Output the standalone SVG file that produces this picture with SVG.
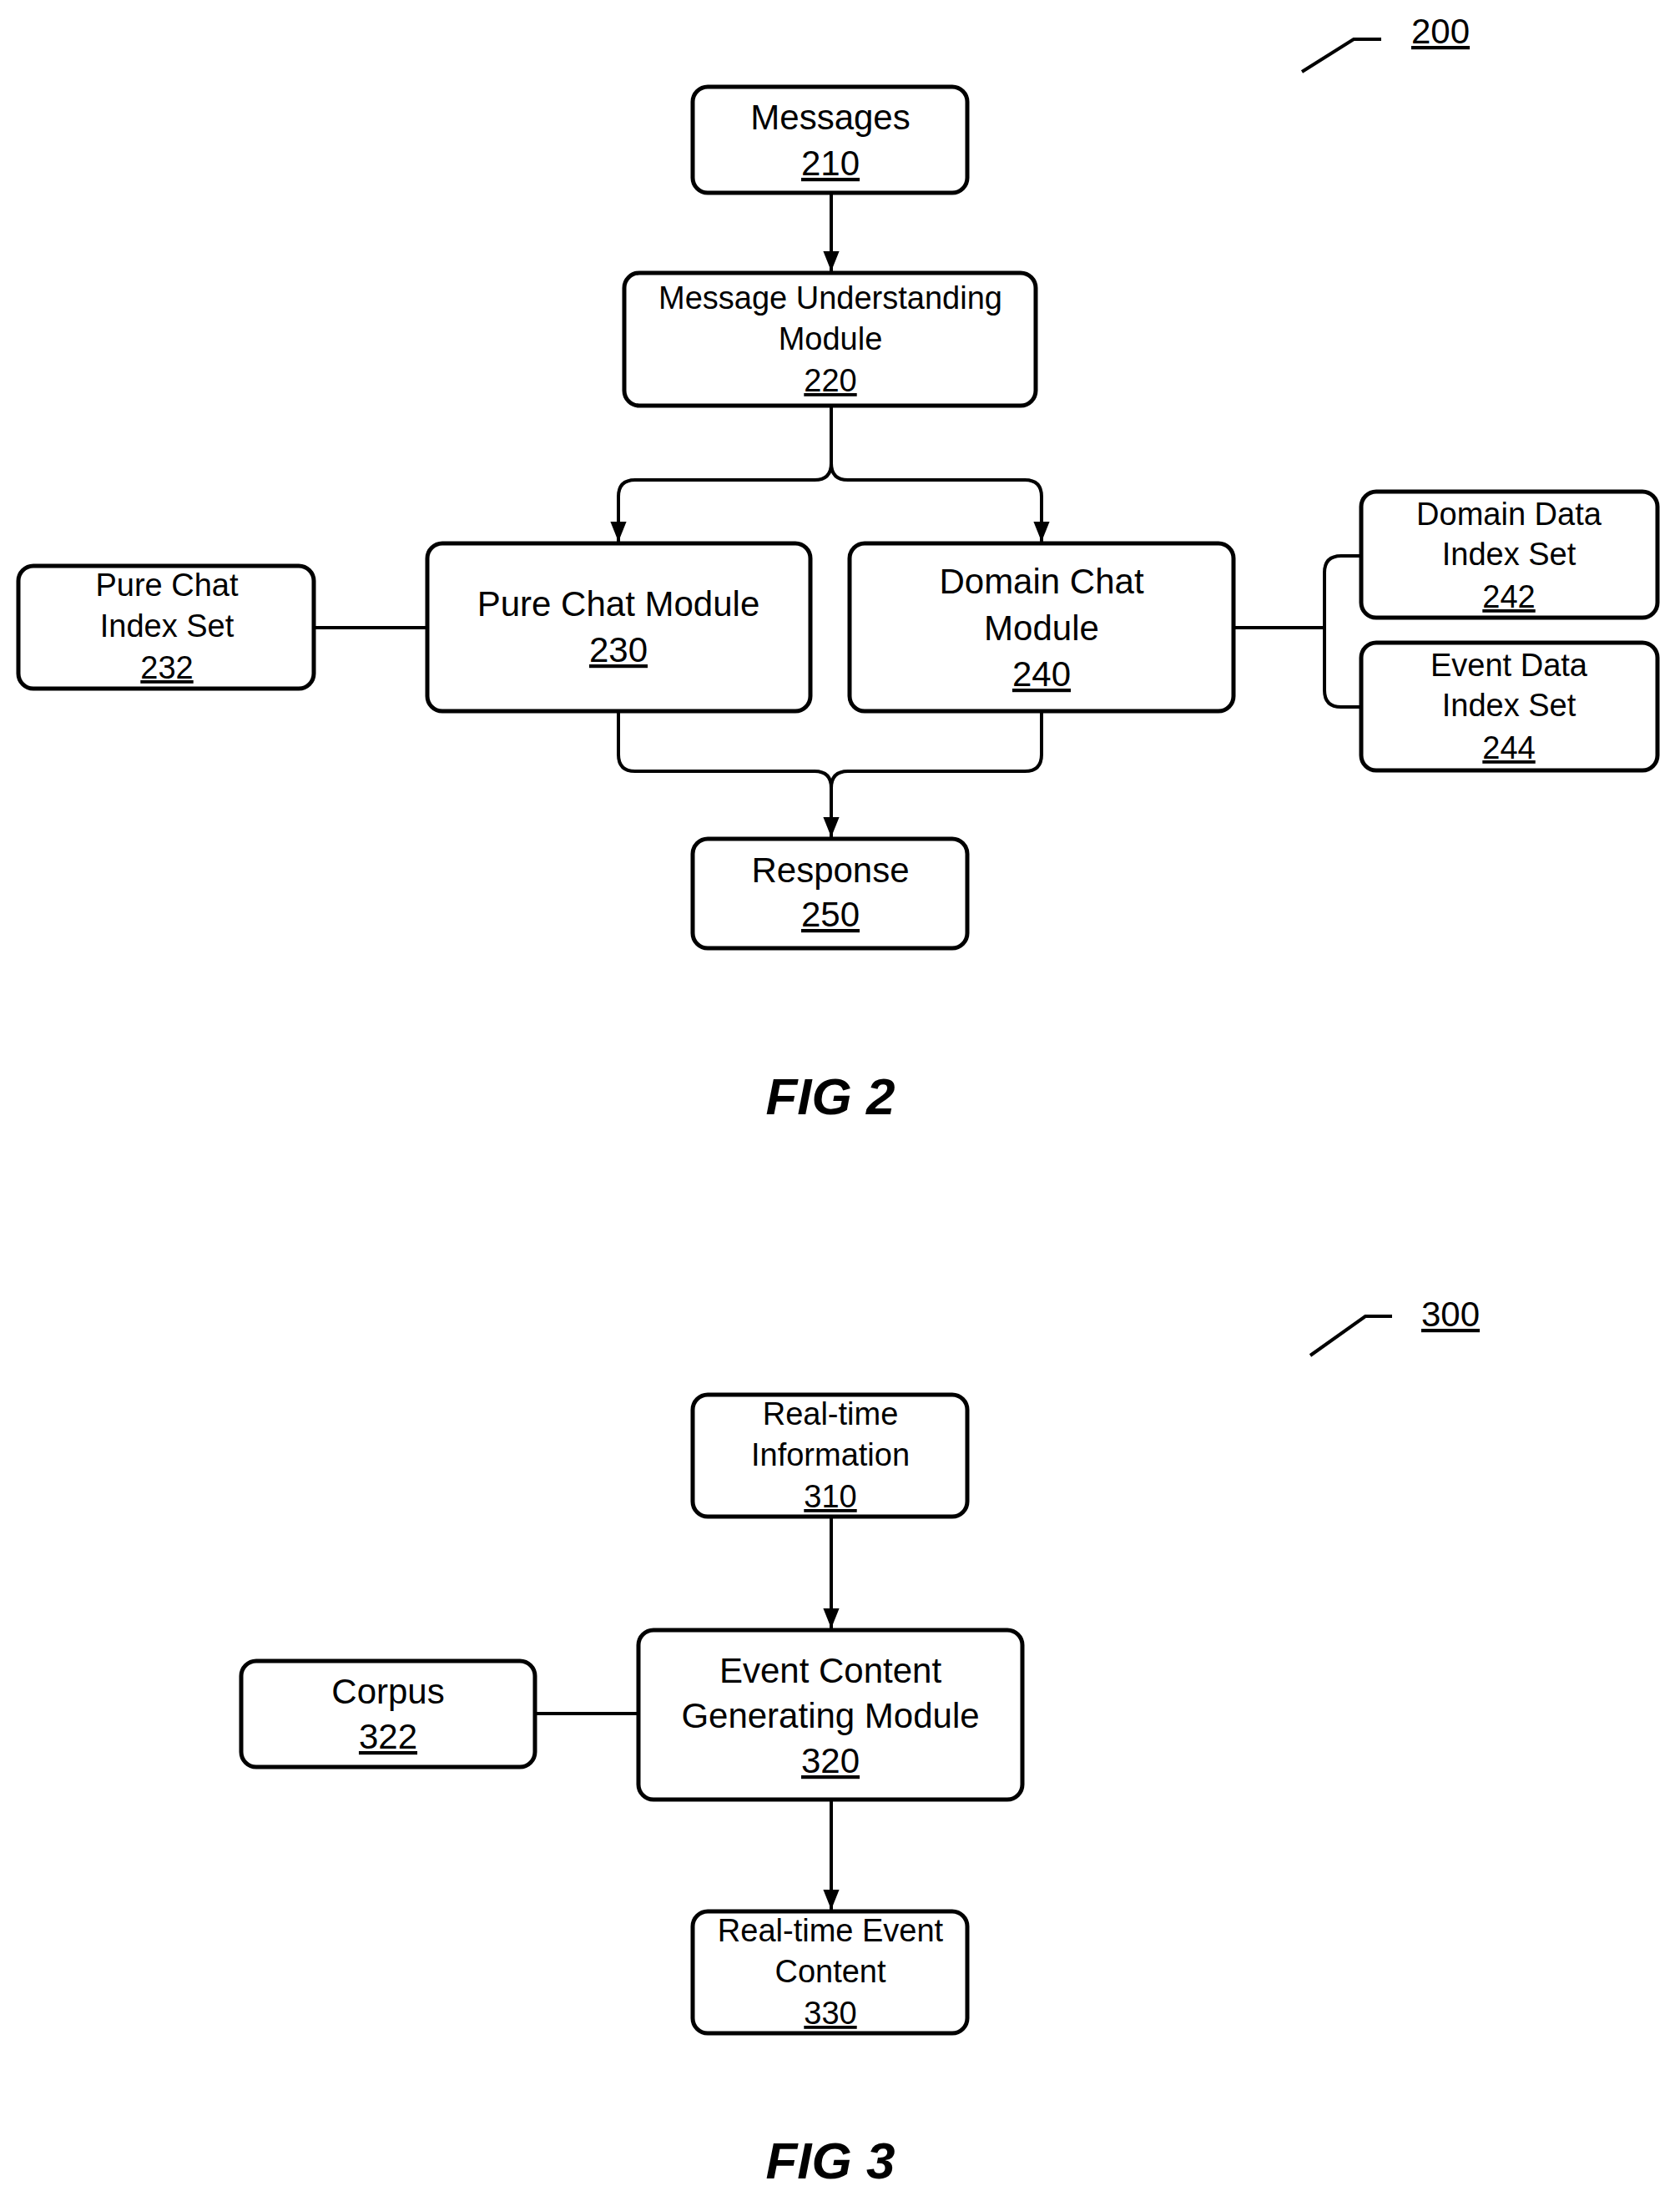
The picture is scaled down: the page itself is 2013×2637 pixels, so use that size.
<svg xmlns="http://www.w3.org/2000/svg" width="2013" height="2637" viewBox="0 0 2013 2637">
<style>
.b{fill:#fff;stroke:#000;stroke-width:5}
.t{font-family:"Liberation Sans",Arial,sans-serif;font-size:38px;text-anchor:middle;fill:#000}
.l{font-size:42px}
.u{text-decoration:underline}
.c{fill:none;stroke:#000;stroke-width:4}
.f{font-family:"Liberation Sans",Arial,sans-serif;font-size:62px;font-weight:bold;font-style:italic;text-anchor:middle}
</style>
<defs><marker id="a" markerWidth="10" markerHeight="10" refX="9" refY="5" orient="auto" markerUnits="userSpaceOnUse"><path d="M0,0L10,5L0,10Z" transform="scale(1)"/></marker>
<marker id="ar" viewBox="0 0 10 10" markerWidth="24" markerHeight="24" refX="10" refY="5" orient="auto" markerUnits="userSpaceOnUse"><path d="M0,1L10,5L0,9Z"/></marker></defs>
<rect width="2013" height="2637" fill="#fff"/>
<g id="connectors">
<path class="c" d="M1560,86L1622,47H1655"/>
<path class="c" d="M1570,1624L1636,1577H1668"/>
<path class="c" d="M996,231V325" marker-end="url(#ar)"/>
<path class="c" d="M996,486V555Q996,575 976,575H761Q741,575 741,595V649" marker-end="url(#ar)"/>
<path class="c" d="M996,555Q996,575 1016,575H1228Q1248,575 1248,595V649" marker-end="url(#ar)"/>
<path class="c" d="M376,752H512"/>
<path class="c" d="M1478,752H1587"/>
<path class="c" d="M1631,666H1607Q1587,666 1587,686V827Q1587,847 1607,847H1631"/>
<path class="c" d="M741,852V904Q741,924 761,924H976Q996,924 996,944V1003" marker-end="url(#ar)"/>
<path class="c" d="M1248,852V904Q1248,924 1228,924H1016Q996,924 996,944"/>
<path class="c" d="M996,1817V1951" marker-end="url(#ar)"/>
<path class="c" d="M641,2053H765"/>
<path class="c" d="M996,2156V2288" marker-end="url(#ar)"/>
</g>
<g id="n200"><text class="t l u" x="1726" y="52">200</text></g>
<g id="n210"><rect class="b" x="830" y="104" width="329" height="127" rx="18"/><text class="t l" x="995" y="155">Messages</text><text class="t l u" x="995" y="210">210</text></g>
<g id="n220"><rect class="b" x="748" y="327" width="493" height="159" rx="18"/><text class="t" x="995" y="370">Message Understanding</text><text class="t" x="995" y="419">Module</text><text class="t u" x="995" y="469">220</text></g>
<g id="n230"><rect class="b" x="512" y="651" width="459" height="201" rx="18"/><text class="t l" x="741" y="738">Pure Chat Module</text><text class="t l u" x="741" y="793">230</text></g>
<g id="n240"><rect class="b" x="1018" y="651" width="460" height="201" rx="18"/><text class="t l" x="1248" y="711">Domain Chat</text><text class="t l" x="1248" y="767">Module</text><text class="t l u" x="1248" y="822">240</text></g>
<g id="n232"><rect class="b" x="22" y="678" width="354" height="147" rx="18"/><text class="t" x="200" y="714">Pure Chat</text><text class="t" x="200" y="763">Index Set</text><text class="t u" x="200" y="813">232</text></g>
<g id="n242"><rect class="b" x="1631" y="589" width="355" height="151" rx="18"/><text class="t" x="1808" y="629">Domain Data</text><text class="t" x="1808" y="677">Index Set</text><text class="t u" x="1808" y="728">242</text></g>
<g id="n244"><rect class="b" x="1631" y="770" width="355" height="153" rx="18"/><text class="t" x="1808" y="810">Event Data</text><text class="t" x="1808" y="858">Index Set</text><text class="t u" x="1808" y="909">244</text></g>
<g id="n250"><rect class="b" x="830" y="1005" width="329" height="131" rx="18"/><text class="t l" x="995" y="1057">Response</text><text class="t l u" x="995" y="1110">250</text></g>
<text class="f" x="995" y="1335">FIG 2</text>
<g id="n300"><text class="t l u" x="1738" y="1589">300</text></g>
<g id="n310"><rect class="b" x="830" y="1671" width="329" height="146" rx="18"/><text class="t" x="995" y="1707">Real-time</text><text class="t" x="995" y="1756">Information</text><text class="t u" x="995" y="1806">310</text></g>
<g id="n320"><rect class="b" x="765" y="1953" width="460" height="203" rx="18"/><text class="t l" x="995" y="2016">Event Content</text><text class="t l" x="995" y="2070">Generating Module</text><text class="t l u" x="995" y="2124">320</text></g>
<g id="n322"><rect class="b" x="289" y="1990" width="352" height="127" rx="18"/><text class="t l" x="465" y="2041">Corpus</text><text class="t l u" x="465" y="2095">322</text></g>
<g id="n330"><rect class="b" x="830" y="2290" width="329" height="146" rx="18"/><text class="t" x="995" y="2326">Real-time Event</text><text class="t" x="995" y="2375">Content</text><text class="t u" x="995" y="2425">330</text></g>
<text class="f" x="995" y="2610">FIG 3</text>
</svg>
